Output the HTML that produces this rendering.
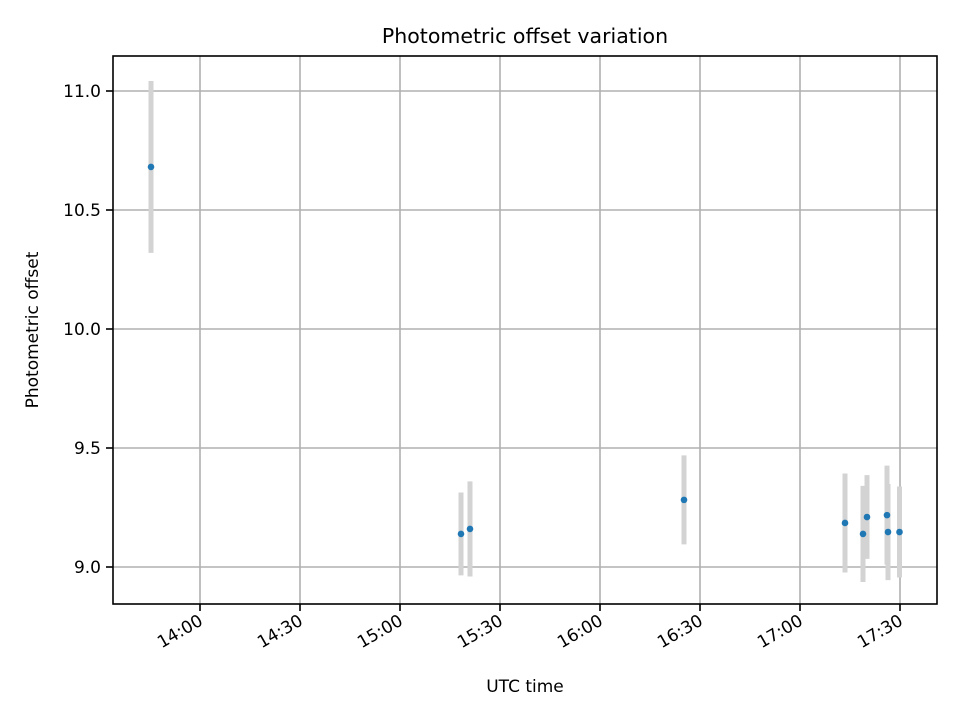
<!DOCTYPE html>
<html><head><meta charset="utf-8"><style>
body{margin:0;background:#fff;}
svg text{font-family:"DejaVu Sans","Liberation Sans",sans-serif;fill:#000;}
</style></head><body>
<svg id="chart" width="960" height="720" xmlns="http://www.w3.org/2000/svg"></svg>
<script>
const times=[825.3,918.3,921,985.2,1033.5,1038.9,1040.1,1046.1,1046.4,1049.85];
const offsets=[10.681,9.139,9.160,9.282,9.185,9.139,9.210,9.218,9.147,9.147];
const errors=[0.361,0.174,0.2,0.187,0.208,0.202,0.176,0.208,0.202,0.191];
const xTicks=[840,870,900,930,960,990,1020,1050];
const xTickLabels=["14:00","14:30","15:00","15:30","16:00","16:30","17:00","17:30"];
const yTicks=[9.0,9.5,10.0,10.5,11.0];
const yTickLabels=["9.0","9.5","10.0","10.5","11.0"];

const L=113,R=937,T=56,B=604;
const sx=m=>200+(m-840)*100/30;
const sy=v=>91+(11-v)*238;
const svg=document.getElementById('chart');
const NS='http://www.w3.org/2000/svg';
function mk(tag,attrs,name,parent){const e=document.createElementNS(NS,tag);for(const k in attrs)e.setAttribute(k,attrs[k]);


(parent||svg).appendChild(e);return e;}
function txt(s,attrs,name){const e=mk('text',attrs,name);e.textContent=s;return e;}

mk('rect',{x:L,y:T,width:R-L,height:B-T,fill:'#fff'},'plot-area');
xTicks.forEach((t,i)=>{const x=sx(t);
mk('line',{x1:x,x2:x,y1:T,y2:B,stroke:'#b0b0b0','stroke-width':1.6},'x-gridline');
mk('line',{x1:x,x2:x,y1:B,y2:B+7,stroke:'#000','stroke-width':1.6},'x-tick');
txt(xTickLabels[i],{x:x+4,y:B+20,'font-size':17,'text-anchor':'end',transform:`rotate(-30 ${x+4} ${B+20})`},'x-tick-label');});
yTicks.forEach((t,i)=>{const y=sy(t);
mk('line',{x1:L,x2:R,y1:y,y2:y,stroke:'#b0b0b0','stroke-width':1.6},'y-gridline');
mk('line',{x1:L-7,x2:L,y1:y,y2:y,stroke:'#000','stroke-width':1.6},'y-tick');
txt(yTickLabels[i],{x:L-12,y:y+6,'font-size':17,'text-anchor':'end'},'y-tick-label');});
times.forEach((t,i)=>{const x=sx(t);
mk('line',{x1:x,x2:x,y1:sy(offsets[i]+errors[i]),y2:sy(offsets[i]-errors[i]),stroke:'#d3d3d3','stroke-width':5},'error-bar');});
times.forEach((t,i)=>{
mk('circle',{cx:sx(t),cy:sy(offsets[i]),r:3.3,fill:'#1f77b4'},'data-point');});
mk('rect',{x:L,y:T,width:R-L,height:B-T,fill:'none',stroke:'#000','stroke-width':1.6},'axes-frame');
txt('Photometric offset variation',{x:(L+R)/2,y:43,'font-size':20.5,'text-anchor':'middle'},'chart-title');
txt('UTC time',{x:(L+R)/2,y:692,'font-size':17,'text-anchor':'middle'},'x-axis-title');
txt('Photometric offset',{x:38,y:(T+B)/2+0,'font-size':17,'text-anchor':'middle',transform:`rotate(-90 38 ${(T+B)/2})`},'y-axis-title');
</script>
</body></html>
